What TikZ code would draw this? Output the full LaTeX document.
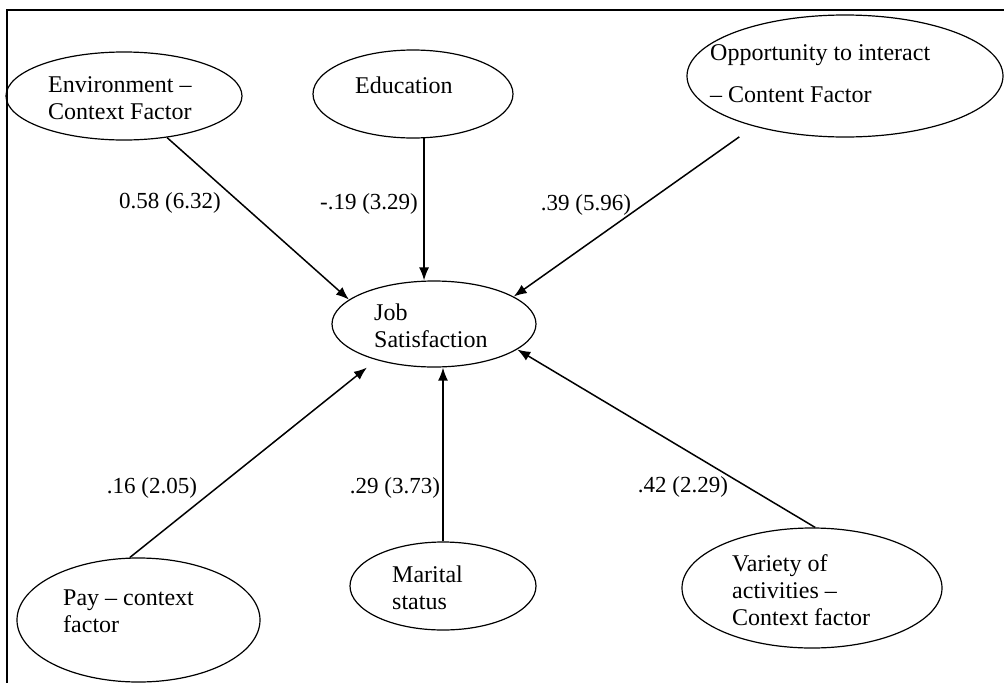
\documentclass[tikz,border=0pt]{standalone}
\usepackage{fontspec}
\setmainfont{Liberation Serif}
\usetikzlibrary{shapes.geometric,arrows.meta}
\begin{document}
\begin{tikzpicture}[x=1pt,y=-1pt,
  ell/.style={draw, ellipse, inner sep=0pt, line width=1.2pt},
  txt/.style={anchor=west, align=left, inner sep=0pt, font=\fontsize{24}{27}\selectfont},
  lbl/.style={inner sep=0pt, font=\fontsize{23}{27}\selectfont},
  arr/.style={-{Latex[length=13pt,width=10pt]}, line width=1.5pt},
  frameline/.style={line width=1.3pt}]
\useasboundingbox (0,0) rectangle (1004,683);
\coordinate (fTL) at (7,10);
\coordinate (fTR) at (1004,10);
\coordinate (fBL) at (7,683);
\draw[frameline] (fTR) -- (fTL) -- (fBL);

% ellipses
\node[ell, minimum width=236pt, minimum height=88pt] (env) at (124,96) {};
\node[ell, minimum width=200pt, minimum height=88pt] (edu) at (413,94) {};
\node[ell, minimum width=316pt, minimum height=122pt] (opp) at (845,76) {};
\node[ell, minimum width=204pt, minimum height=86pt] (job) at (434,324) {};
\node[ell, minimum width=243pt, minimum height=124pt] (pay) at (138.5,620) {};
\node[ell, minimum width=186pt, minimum height=88pt] (mar) at (443,586) {};
\node[ell, minimum width=260pt, minimum height=120pt] (var) at (812,588) {};

% texts
\node[txt] (envT) at (48,98.5) {Environment –\\Context Factor};
\node[txt] (eduT) at (355,85) {Education};
\node[txt, font=\fontsize{24}{42}\selectfont] (oppT) at (710,74) {Opportunity to interact\\– Content Factor};
\node[txt] (jobT) at (374,325.5) {Job\\Satisfaction};
\node[txt] (payT) at (63,611) {Pay – context\\factor};
\node[txt] (marT) at (392,587.5) {Marital\\status};
\node[txt] (varT) at (732,590) {Variety of\\activities –\\Context factor};

% arrows
\draw[arr] (env.-44) -- (job.164);
\draw[arr] (edu.-76) -- (edu.-76 |- job.north);
\draw[arr, shorten <=18pt] (opp.209) -- (job.19.4);
\draw[arr, shorten >=12pt] (pay.98) -- (job.212);
\draw[arr] (mar.north) -- (mar.north |- job.south);
\draw[arr] (var.87) -- (job.-17);

% labels
\node[lbl] (l1) at (170,203) {0.58 (6.32)};
\node[lbl] (l2) at (369,204) {-.19 (3.29)};
\node[lbl] (l3) at (586,205) {.39 (5.96)};
\node[lbl] (l4) at (152,488) {.16 (2.05)};
\node[lbl] (l5) at (395,488) {.29 (3.73)};
\node[lbl] (l6) at (683,487) {.42 (2.29)};
\end{tikzpicture}
\end{document}
